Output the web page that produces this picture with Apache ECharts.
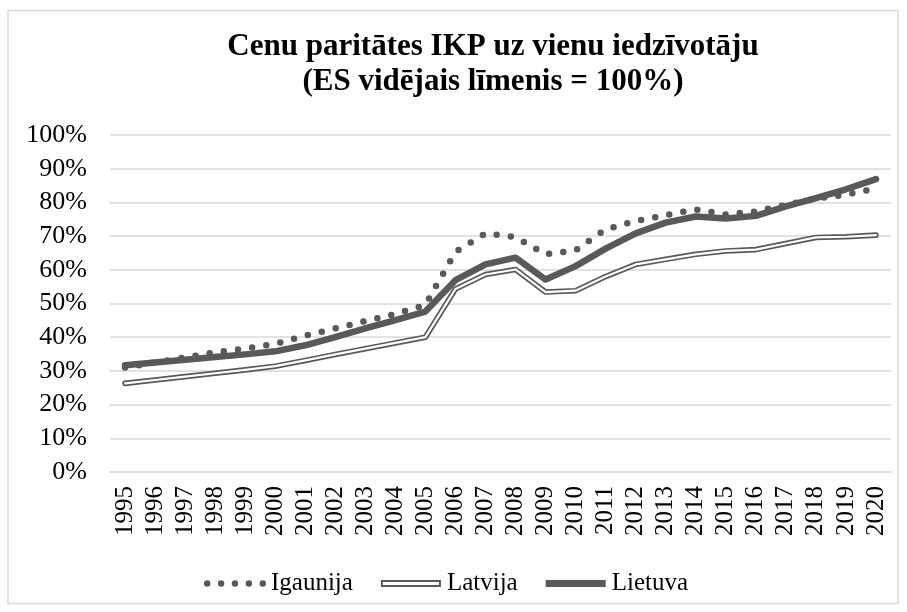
<!DOCTYPE html>
<html>
<head>
<meta charset="utf-8">
<script src="https://cdn.jsdelivr.net/npm/echarts@6/dist/echarts.min.js"></script>
<style>
  html, body {margin: 0; padding: 0; background: #fff;}
  #chart {width: 907px; height: 612px;}
</style>
</head>
<body>
<div id="chart"></div>
<script>
// gadi
const years = ['1995','1996','1997','1998','1999','2000','2001','2002','2003','2004','2005','2006','2007',
  '2008','2009','2010','2011','2012','2013','2014','2015','2016','2017','2018','2019','2020'];
// IKP uz vienu iedzīvotāju, % no ES vidējā
const igaunija = [31.0, 32.5, 34.0, 35.5, 36.6, 38.0, 40.5, 42.6, 44.8, 46.9, 49.6, 65.3, 70.8,
  69.7, 64.6, 65.8, 72.0, 74.5, 76.2, 77.9, 76.4, 77.3, 79.3, 81.1, 82.3, 84.1];
const latvija = [26.3, 27.3, 28.3, 29.3, 30.3, 31.4, 33.1, 34.9, 36.6, 38.3, 40.0, 54.3, 58.6,
  60.1, 53.4, 53.8, 58.0, 61.6, 63.1, 64.6, 65.6, 66.0, 67.8, 69.6, 69.8, 70.3];
const lietuva = [31.7, 32.5, 33.3, 34.1, 34.9, 35.8, 37.6, 40.0, 42.6, 45.1, 47.6, 56.9, 61.6,
  63.6, 57.1, 61.1, 66.3, 70.8, 74.0, 75.8, 75.2, 76.0, 78.8, 81.3, 83.9, 86.9];

const FONT = '"Liberation Serif", "Times New Roman", serif';
const GREY = '#595959';

// leģendas ikonas
const dotsIcon = 'path://M0,3a3,3 0 1,0 6,0a3,3 0 1,0 -6,0Z M13,3a3,3 0 1,0 6,0a3,3 0 1,0 -6,0Z ' +
  'M26,3a3,3 0 1,0 6,0a3,3 0 1,0 -6,0Z M39,3a3,3 0 1,0 6,0a3,3 0 1,0 -6,0Z M52,3a3,3 0 1,0 6,0a3,3 0 1,0 -6,0Z';
const doubleIcon = 'path://M0,0H60V7H0Z M1.9,1.9V5.1H58.1V1.9Z';
const thickIcon = 'path://M0,0H60V7H0Z';

const myChart = echarts.init(document.getElementById('chart'));
myChart.setOption({
  animation: false,
  backgroundColor: '#fff',
  graphic: [{
    type: 'rect',
    shape: {x: 8, y: 10.5, width: 890, height: 593},
    style: {fill: 'none', stroke: '#d9d9d9', lineWidth: 1.5},
    silent: true
  }],
  title: {
    text: 'Cenu paritātes IKP uz vienu iedzīvotāju\n(ES vidējais līmenis = 100%)',
    left: 488,
    top: 24,
    textAlign: 'center',
    textStyle: {
      fontFamily: FONT,
      fontWeight: 'bold',
      fontSize: 31,
      lineHeight: 35,
      color: '#000'
    }
  },
  legend: {
    left: 199,
    top: 566,
    itemWidth: 62,
    itemHeight: 7,
    itemGap: 28,
    textStyle: {fontFamily: FONT, fontSize: 25, color: '#000'},
    data: [
      {name: 'Igaunija', icon: dotsIcon},
      {name: 'Latvija', icon: doubleIcon},
      {name: 'Lietuva', icon: thickIcon}
    ]
  },
  grid: {
    left: 110,
    right: 16,
    top: 135,
    bottom: 140,
    containLabel: false,
    outerBoundsMode: 'none'
  },
  xAxis: {
    type: 'category',
    boundaryGap: true,
    data: years,
    axisLine: {lineStyle: {color: '#d9d9d9', width: 1.5}},
    axisTick: {show: false},
    axisLabel: {
      rotate: 90,
      interval: 0,
      margin: 14,
      fontFamily: FONT,
      fontSize: 25,
      color: '#000'
    }
  },
  yAxis: {
    type: 'value',
    min: 0,
    max: 100,
    interval: 10,
    axisLine: {show: false},
    axisTick: {show: false},
    splitLine: {lineStyle: {color: '#d9d9d9', width: 1.5}},
    axisLabel: {
      formatter: '{value}%',
      margin: 23,
      fontFamily: FONT,
      fontSize: 26,
      color: '#000'
    }
  },
  series: [
    {
      name: 'Igaunija',
      type: 'line',
      data: igaunija,
      symbol: 'none',
      color: GREY,
      lineStyle: {color: GREY, width: 6.5, type: [0, 14.3], cap: 'round', join: 'round'}
    },
    {
      name: 'Latvija',
      type: 'line',
      data: latvija,
      symbol: 'none',
      color: GREY,
      lineStyle: {color: GREY, width: 5.6, cap: 'round', join: 'round'}
    },
    {
      // balta iekšlīnija dubultlīnijai
      name: 'Latvija_in',
      type: 'line',
      data: latvija,
      symbol: 'none',
      color: '#fff',
      lineStyle: {color: '#fff', width: 2.2, cap: 'round', join: 'round'}
    },
    {
      name: 'Lietuva',
      type: 'line',
      data: lietuva,
      symbol: 'none',
      color: GREY,
      lineStyle: {color: GREY, width: 6.5, cap: 'round', join: 'round'}
    }
  ]
});
</script>
</body>
</html>
